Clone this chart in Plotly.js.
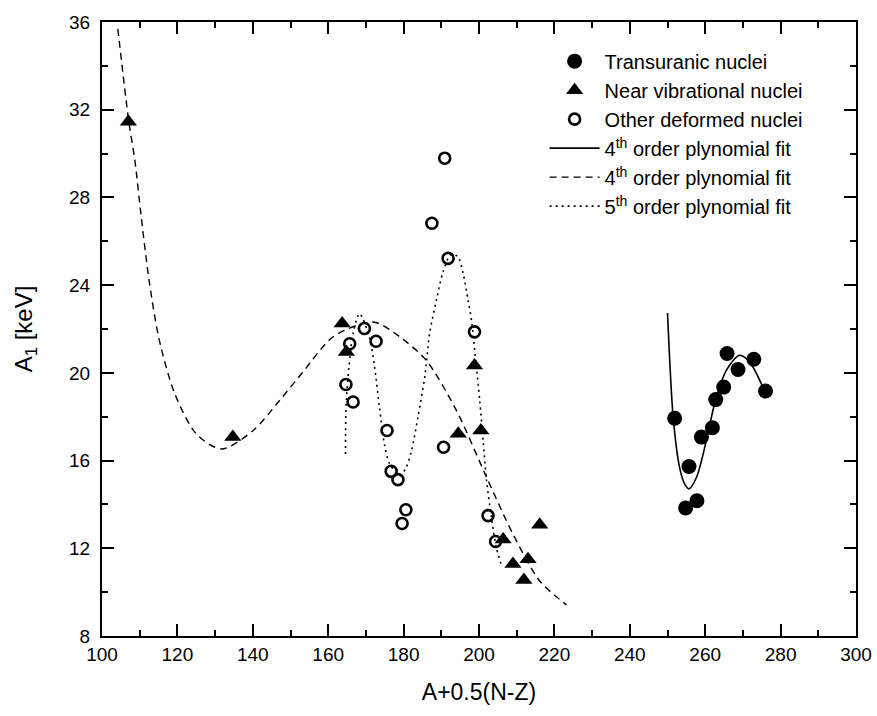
<!DOCTYPE html>
<html>
<head>
<meta charset="utf-8">
<script src="https://cdn.plot.ly/plotly-3.0.1.min.js"></script>
<style>html,body{margin:0;padding:0;background:#fff;}#chart{width:877px;height:716px;}</style>
</head>
<body>
<div id="chart"></div>
<script>
// Transuranic nuclei (filled circles)
var transX = [251.9, 255.7, 254.8, 257.8, 259.0, 261.9, 262.8, 264.9, 265.8, 268.7, 272.9, 276.0];
var transY = [17.93, 15.73, 13.84, 14.17, 17.07, 17.50, 18.78, 19.35, 20.88, 20.15, 20.62, 19.17];

// Near vibrational nuclei (filled triangles)
var vibX = [107.0, 134.7, 163.7, 164.8, 198.8, 194.5, 200.5, 216.1, 206.4, 209.0, 213.0, 211.9];
var vibY = [31.45, 17.07, 22.25, 20.95, 20.34, 17.22, 17.37, 13.07, 12.40, 11.28, 11.50, 10.55];

// Other deformed nuclei (open circles)
var defX = [169.6, 165.7, 172.7, 164.7, 166.6, 175.6, 176.7, 178.5, 180.6, 179.6, 190.9, 187.5, 191.8, 198.8, 190.6, 202.4, 204.4];
var defY = [22.02, 21.33, 21.44, 19.47, 18.67, 17.37, 15.51, 15.13, 13.76, 13.13, 29.79, 26.82, 25.22, 21.87, 16.61, 13.49, 12.31];

// 4th order fit (solid) for transuranic nuclei
var fitSolidX = [250.0, 251.5, 253.2, 254.5, 255.7, 257.7, 260.3, 262.5, 265.6, 269.1, 271.8, 275.3];
var fitSolidY = [22.73, 17.98, 15.69, 14.95, 14.71, 15.24, 16.91, 18.59, 20.11, 20.80, 20.49, 19.35];

// 4th order fit (dashed)
var fitDashX = [104.2, 107.1, 108.7, 110.4, 112.6, 115.2, 119.3, 125.0, 131.7, 140.1, 147.1, 153.3, 161.3, 171.9, 179.0, 186.0, 194.0, 202.0, 209.0, 216.1, 223.2];
var fitDashY = [35.69, 31.47, 29.71, 27.12, 24.08, 21.49, 19.05, 17.22, 16.53, 17.37, 18.74, 20.04, 21.64, 22.32, 21.64, 20.57, 18.29, 15.24, 12.65, 10.51, 9.42];

// 5th order fit (dotted)
var fitDotX = [164.6, 164.6, 164.8, 165.5, 166.6, 168.3, 170.9, 172.3, 173.6, 174.9, 176.3, 179.0, 180.7, 182.1, 183.8, 185.6, 186.9, 188.7, 190.4, 192.5, 194.4, 195.8, 197.1, 198.0, 199.3, 200.2, 201.1, 202.0, 203.3, 204.6, 205.8];
var fitDotY = [16.30, 17.22, 18.70, 20.27, 21.80, 22.70, 21.64, 20.27, 18.44, 16.76, 15.85, 15.31, 15.70, 16.46, 17.98, 19.81, 21.79, 23.31, 24.56, 25.40, 25.30, 24.53, 23.31, 22.40, 20.27, 18.74, 16.91, 15.09, 13.41, 12.04, 11.30];

var xTicks = [100, 120, 140, 160, 180, 200, 220, 240, 260, 280, 300];
var yTicks = [8, 12, 16, 20, 24, 28, 32, 36];

var FONT = 'Liberation Sans, Arial, Helvetica, sans-serif';

var traces = [
  {x: fitSolidX, y: fitSolidY, mode: 'lines', name: '4<sup>th</sup> order plynomial fit', legendrank: 4,
   line: {color: '#000', width: 1.6, shape: 'spline', smoothing: 0.8}},
  {x: fitDashX, y: fitDashY, mode: 'lines', name: '4<sup>th</sup> order plynomial fit', legendrank: 5,
   line: {color: '#000', width: 1.4, dash: '7px,5px', shape: 'spline', smoothing: 0.8}},
  {x: fitDotX, y: fitDotY, mode: 'lines', name: '5<sup>th</sup> order plynomial fit', legendrank: 6,
   line: {color: '#000', width: 1.6, dash: '2px,4px', shape: 'spline', smoothing: 0.8}},
  {x: transX, y: transY, mode: 'markers', name: 'Transuranic nuclei', legendrank: 1,
   marker: {symbol: 'circle', size: 15, color: '#000'}},
  {x: vibX, y: vibY, mode: 'markers', name: 'Near vibrational nuclei', legendrank: 2,
   marker: {symbol: 'triangle-up', size: 15, color: '#000'}},
  {x: defX, y: defY, mode: 'markers', name: 'Other deformed nuclei', legendrank: 3,
   marker: {symbol: 'circle-open', size: 11, color: '#000', line: {width: 2.6, color: '#000'}}}
];

var axisCommon = {
  showline: true, linecolor: '#000', linewidth: 2, mirror: 'ticks',
  ticks: 'inside', ticklen: 12, tickwidth: 2, tickcolor: '#000',
  showgrid: false, zeroline: false,
  tickfont: {family: FONT, size: 19, color: '#000'}
};

var layout = {
  width: 877, height: 716,
  margin: {l: 102, r: 21, t: 22, b: 80},
  paper_bgcolor: '#fff', plot_bgcolor: '#fff',
  font: {family: FONT, color: '#000'},
  showlegend: true,
  legend: {x: 0.587, y: 0.968, xanchor: 'left', yanchor: 'top', bgcolor: 'rgba(0,0,0,0)',
           font: {family: FONT, size: 20, color: '#000'}, itemwidth: 50, tracegroupgap: 0},
  xaxis: Object.assign({}, axisCommon, {
    range: [100, 300], tickmode: 'array', tickvals: xTicks, ticktext: xTicks.map(String),
    minor: {dtick: 10, ticks: 'inside', ticklen: 6, tickwidth: 2, tickcolor: '#000'},
    title: {text: 'A+0.5(N-Z)', font: {family: FONT, size: 23, color: '#000'}, standoff: 20}
  }),
  yaxis: Object.assign({}, axisCommon, {
    range: [8, 36], tickmode: 'array', tickvals: yTicks, ticktext: yTicks.map(String),
    minor: {dtick: 2, ticks: 'inside', ticklen: 6, tickwidth: 2, tickcolor: '#000'},
    ticklabelstandoff: 6,
    title: {text: 'A<sub>1</sub> [keV]', font: {family: FONT, size: 24, color: '#000'}, standoff: 30}
  })
};

Plotly.newPlot('chart', traces, layout, {displayModeBar: false, staticPlot: true});
</script>
</body>
</html>
